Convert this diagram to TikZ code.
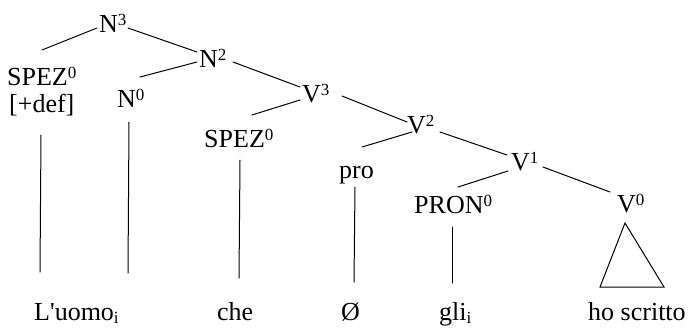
\documentclass[tikz,border=0pt]{standalone}
\usepackage{fontspec}
\setmainfont{Liberation Serif}[Ligatures=TeXOff]
\newcommand{\spx}[1]{\raisebox{7pt}{\fontsize{17}{17}\selectfont #1}}
\newcommand{\sbx}[1]{\raisebox{-3pt}{\fontsize{17}{17}\selectfont #1}}
\begin{document}
\begin{tikzpicture}[x=1pt,y=-1pt,
  lbl/.style={anchor=base west, inner sep=0pt, font=\fontsize{26}{30}\selectfont},
  edge/.style={line width=1pt, line cap=round}]
\useasboundingbox (0,0) rectangle (691,333);
% labels
\node[lbl] (n3) at (99,32) {N\spx{3}};
\node[lbl] (spez1) at (7,85) {SPEZ\spx{0}};
\node[lbl] (def) at (9,112) {[+def]};
\node[lbl] (n2) at (199,67) {N\spx{2}};
\node[lbl] (n0) at (117,107) {N\spx{0}};
\node[lbl] (v3) at (302,102) {V\spx{3}};
\node[lbl] (spez2) at (204,147) {SPEZ\spx{0}};
\node[lbl] (v2) at (407,133) {V\spx{2}};
\node[lbl] (pro) at (339,178) {pro};
\node[lbl] (v1) at (511,170) {V\spx{1}};
\node[lbl] (pron) at (414,213) {PRON\spx{0}};
\node[lbl] (v0) at (617,212) {V\spx{0}};
\node[lbl] (w1) at (34,320) {L'uomo\sbx{i}};
\node[lbl] (w2) at (217,320) {che};
\node[lbl] (w3) at (341,320) {Ø};
\node[lbl] (w4) at (439,320) {gli\sbx{i}};
\node[lbl] (w5) at (588,320) {ho scritto};
% connector ends
\coordinate (n3-l) at (97,28);   \coordinate (spez1-t) at (42,50);
\coordinate (n3-r) at (128,28);  \coordinate (n2-t) at (197,52);
\coordinate (n2-l) at (197,62);  \coordinate (n0-t) at (140,77);
\coordinate (n2-r) at (233,62);  \coordinate (v3-t) at (300,87);
\coordinate (v3-l) at (300,100); \coordinate (spez2-t) at (252,115);
\coordinate (v3-r) at (342,96);  \coordinate (v2-t) at (407,122);
\coordinate (v2-l) at (412,132); \coordinate (pro-t) at (362,147);
\coordinate (v2-r) at (440,132); \coordinate (v1-t) at (507,155);
\coordinate (v1-l) at (508,171); \coordinate (pron-t) at (458,187);
\coordinate (v1-r) at (543,167); \coordinate (v0-t) at (610,192);
\coordinate (def-b) at (41,135);   \coordinate (w1-a) at (40,272);
\coordinate (n0-b) at (129,122);   \coordinate (w1-b) at (128,273);
\coordinate (spez2-b) at (240,160);\coordinate (w2-t) at (239,278);
\coordinate (pro-b) at (355,187);  \coordinate (w3-t) at (354,282);
\coordinate (pron-b) at (452,227); \coordinate (w4-t) at (452,283);
\coordinate (v0-b) at (625,223);   \coordinate (w5-l) at (600,287);
\coordinate (w5-r) at (664,287);
% branches
\draw[edge] (n3-l) -- (spez1-t);
\draw[edge] (n3-r) -- (n2-t);
\draw[edge] (n2-l) -- (n0-t);
\draw[edge] (n2-r) -- (v3-t);
\draw[edge] (v3-l) -- (spez2-t);
\draw[edge] (v3-r) -- (v2-t);
\draw[edge] (v2-l) -- (pro-t);
\draw[edge] (v2-r) -- (v1-t);
\draw[edge] (v1-l) -- (pron-t);
\draw[edge] (v1-r) -- (v0-t);
\draw[edge] (def-b) -- (w1-a);
\draw[edge] (n0-b) -- (w1-b);
\draw[edge] (spez2-b) -- (w2-t);
\draw[edge] (pro-b) -- (w3-t);
\draw[edge] (pron-b) -- (w4-t);
\draw[edge, line join=miter] (v0-b) -- (w5-l) -- (w5-r) -- cycle;
\end{tikzpicture}
\end{document}
